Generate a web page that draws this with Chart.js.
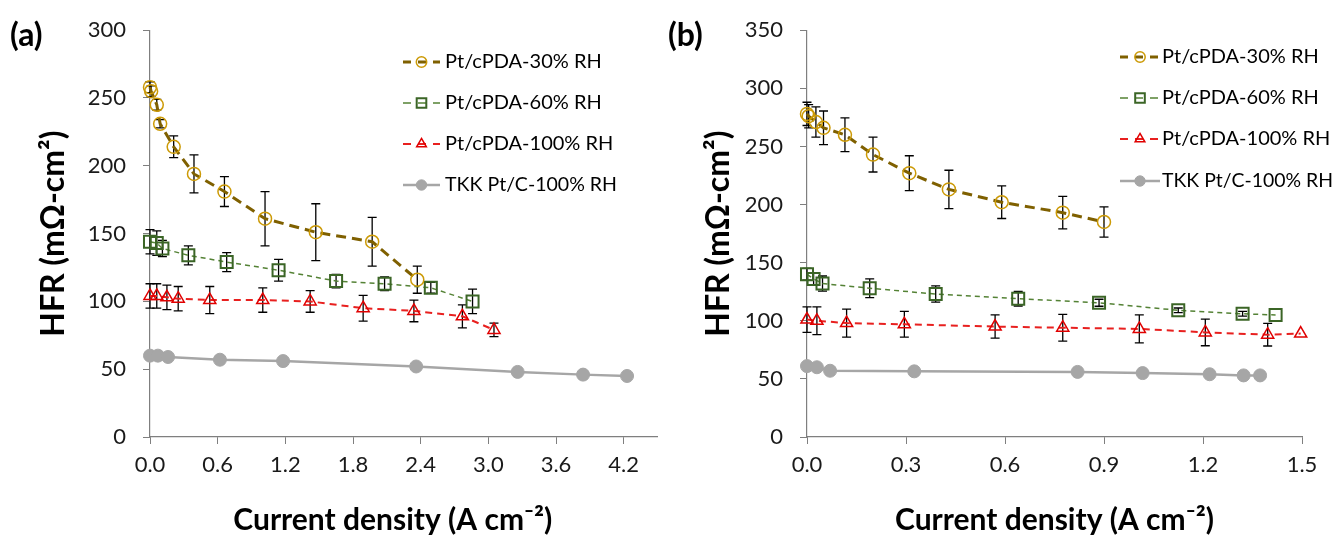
<!DOCTYPE html>
<html lang="en">
<head>
<meta charset="UTF-8">
<title>HFR vs current density</title>
<script src="https://cdn.jsdelivr.net/npm/chart.js"></script>
<style>
    body { margin: 0; background: #ffffff; width: 1336px; height: 539px; overflow: hidden; }
    .panel { position: absolute; top: 0; width: 668px; height: 539px; }
    .tag { position: absolute; top: 14px; font: bold 32px Lato, sans-serif; color: #000; }
</style>
</head>
<body>
<div class="panel" style="left:0"><canvas id="chartA" width="668" height="539"></canvas><div class="tag" style="left:10px">(a)</div></div>
<div class="panel" style="left:668px"><canvas id="chartB" width="668" height="539"></canvas><div class="tag" style="left:0px">(b)</div></div>

<script>
// series names
const seriesNames = ['Pt/cPDA-30% RH', 'Pt/cPDA-60% RH', 'Pt/cPDA-100% RH', 'TKK Pt/C-100% RH'];

// panel (a)
const xA30 = [0.00, 0.01, 0.06, 0.09, 0.21, 0.39, 0.66, 1.02, 1.47, 1.97, 2.37];
const yA30 = [258, 255, 245, 231, 214, 194, 181, 161, 151, 144, 116];
const eA30 = [4, 4, 4, 3, 8, 14, 11, 20, 21, 18, 10];

const xA60 = [0.00, 0.06, 0.11, 0.34, 0.68, 1.14, 1.65, 2.08, 2.49, 2.86];
const yA60 = [144, 143, 139, 134, 129, 123, 115, 113, 110, 100];
const eA60 = [9, 9, 6, 7, 7, 8, 5, 5, 4, 9];

const xA100 = [0.00, 0.06, 0.15, 0.25, 0.53, 1.00, 1.42, 1.89, 2.34, 2.77, 3.05];
const yA100 = [104, 104, 103, 102, 101, 101, 100, 95, 93, 89, 79];
const eA100 = [9, 9, 9, 9, 10, 9, 8, 9.5, 8, 8.5, 5];

const xATKK = [0.00, 0.07, 0.16, 0.62, 1.18, 2.36, 3.26, 3.84, 4.23];
const yATKK = [60, 60, 59, 57, 56, 52, 48, 46, 45];

// panel (b)
const xB30 = [0.00, 0.005, 0.027, 0.05, 0.115, 0.20, 0.31, 0.43, 0.59, 0.775, 0.90];
const yB30 = [278, 276, 271, 266, 260, 243, 227, 213, 202, 193, 185];
const eB30 = [10, 10, 13, 14.5, 14.5, 15, 15, 16.5, 14, 14, 13];

const xB60 = [0.00, 0.02, 0.047, 0.19, 0.39, 0.64, 0.885, 1.125, 1.32, 1.42];
const yB60 = [140, 136, 132, 128, 123, 119, 115.5, 109, 106, 105];
const eB60 = [5, 5, 6.5, 8, 7, 6.3, 3, 2, 2, 0];

const xB100 = [0.00, 0.03, 0.12, 0.295, 0.57, 0.775, 1.007, 1.207, 1.396, 1.496];
const yB100 = [101, 100, 98, 97, 95, 94, 93, 90, 88, 89];
const eB100 = [11, 12, 12, 11, 10, 11.5, 12, 11.5, 9.7, 0];

const xBTKK = [0.00, 0.03, 0.07, 0.325, 0.82, 1.017, 1.22, 1.323, 1.373];
const yBTKK = [61, 60, 57, 56.5, 56, 55, 54, 53, 53];

// axis settings
const yTitle = 'HFR (mΩ-cm²)';
const xTitle = 'Current density (A cm⁻²)';

function pts(xs, ys) {
    return xs.map((x, i) => ({x: x, y: ys[i]}));
}

function makeSets(s30, s60, s100, sTKK) {
    return [
        {
            label: seriesNames[0], data: pts(s30[0], s30[1]), errors: s30[2],
            borderColor: '#7F6000', borderWidth: 3, borderDash: [10, 6],
            pointStyle: 'circle', pointRadius: 6.5, pointBorderWidth: 1.5,
            pointBorderColor: '#CC9A06', pointBackgroundColor: 'rgba(0,0,0,0)'
        },
        {
            label: seriesNames[1], data: pts(s60[0], s60[1]), errors: s60[2],
            borderColor: '#548235', borderWidth: 1.5, borderDash: [5, 4],
            pointStyle: 'rect', pointRadius: 8.5, pointBorderWidth: 2,
            pointBorderColor: '#3B6526', pointBackgroundColor: 'rgba(0,0,0,0)'
        },
        {
            label: seriesNames[2], data: pts(s100[0], s100[1]), errors: s100[2],
            borderColor: '#E8201F', borderWidth: 2, borderDash: [7, 5],
            pointStyle: 'triangle', pointRadius: 7, pointBorderWidth: 1.5,
            pointBorderColor: '#E00000', pointBackgroundColor: 'rgba(0,0,0,0)'
        },
        {
            label: seriesNames[3], data: pts(sTKK[0], sTKK[1]),
            borderColor: '#A6A6A6', borderWidth: 2.5, borderDash: [],
            pointStyle: 'circle', pointRadius: 6.5, pointBorderWidth: 1,
            pointBorderColor: '#A6A6A6', pointBackgroundColor: '#A6A6A6'
        }
    ];
}

// vertical error bars with caps
const errorBars = {
    id: 'errorBars',
    beforeDatasetsDraw(chart) {
        const ctx = chart.ctx;
        const xs = chart.scales.x, ys = chart.scales.y;
        ctx.save();
        ctx.strokeStyle = '#000';
        ctx.lineWidth = 1.3;
        chart.data.datasets.forEach(ds => {
            if (!ds.errors) return;
            ds.data.forEach((p, i) => {
                const e = ds.errors[i];
                if (!e) return;
                const px = xs.getPixelForValue(p.x);
                const top = ys.getPixelForValue(p.y + e);
                const bot = ys.getPixelForValue(p.y - e);
                ctx.beginPath();
                ctx.moveTo(px, top); ctx.lineTo(px, bot);
                ctx.moveTo(px - 4.5, top); ctx.lineTo(px + 4.5, top);
                ctx.moveTo(px - 4.5, bot); ctx.lineTo(px + 4.5, bot);
                ctx.stroke();
            });
        });
        ctx.restore();
    }
};

// legend drawn like the spreadsheet one: line + marker + text
const lineLegend = {
    id: 'lineLegend',
    afterDraw(chart, args, opts) {
        const ctx = chart.ctx;
        ctx.save();
        chart.data.datasets.forEach((ds, i) => {
            const yy = opts.rows[i];
            const x0 = opts.x, x1 = opts.x + opts.len;
            ctx.strokeStyle = ds.borderColor;
            ctx.lineWidth = ds.borderWidth;
            ctx.setLineDash(ds.borderDash && ds.borderDash.length ? [8, 7] : []);
            ctx.beginPath();
            ctx.moveTo(x0, yy); ctx.lineTo(x1, yy);
            ctx.stroke();
            ctx.setLineDash([]);
            ctx.strokeStyle = ds.pointBorderColor;
            ctx.fillStyle = ds.pointBackgroundColor;
            ctx.lineWidth = ds.pointBorderWidth;
            Chart.helpers.drawPoint(ctx, {
                pointStyle: ds.pointStyle, rotation: 0,
                radius: ds.pointRadius * 0.8, borderWidth: ds.pointBorderWidth
            }, (x0 + x1) / 2, yy);
            ctx.fillStyle = '#000';
            ctx.font = '20px Lato, sans-serif';
            ctx.textBaseline = 'middle';
            ctx.textAlign = 'left';
            // the original face is narrower, squeeze long labels a little
            ctx.fillText(ds.label, opts.textX, yy, opts.maxText);
        });
        ctx.restore();
    }
};

function buildChart(id, sets, cfg) {
    new Chart(document.getElementById(id), {
        type: 'line',
        data: {datasets: sets},
        plugins: [errorBars, lineLegend],
        options: {
            responsive: false,
            devicePixelRatio: 1,
            animation: false,
            layout: {padding: {left: 0, top: 26, right: cfg.padRight, bottom: 0}},
            datasets: {line: {tension: 0, clip: false}},
            plugins: {
                legend: {display: false},
                tooltip: {enabled: false},
                lineLegend: cfg.legend
            },
            scales: {
                x: {
                    type: 'linear', min: 0, max: cfg.xMax,
                    afterFit: s => { s.height = 102; },
                    border: {display: true, color: '#7f7f7f', width: 1.2},
                    grid: {display: true, drawOnChartArea: false, drawTicks: true, tickLength: 7, tickColor: '#7f7f7f'},
                    ticks: {
                        stepSize: cfg.xStep, includeBounds: false, padding: 8,
                        color: '#1a1a1a', font: {family: 'Lato', size: 22},
                        maxRotation: 0,
                        callback: v => v.toFixed(1)
                    },
                    title: {
                        display: true, text: cfg.xTitle, color: '#000',
                        font: {family: 'Lato', size: 30, weight: 'bold'},
                        padding: {top: 0, bottom: 1}
                    }
                },
                y: {
                    type: 'linear', min: 0, max: cfg.yMax,
                    afterFit: s => { s.width = cfg.yWidth; },
                    border: {display: true, color: '#7f7f7f', width: 1.2},
                    grid: {display: true, drawOnChartArea: false, drawTicks: true, tickLength: 7, tickColor: '#7f7f7f'},
                    ticks: {
                        stepSize: 50, padding: 17,
                        color: '#1a1a1a', font: {family: 'Lato', size: 22}
                    },
                    title: {
                        display: true, text: yTitle, color: '#000',
                        font: {family: 'Lato', size: 32, weight: 'bold'},
                        padding: {top: cfg.yTitlePad, bottom: 0}
                    }
                }
            }
        }
    });
}

buildChart('chartA',
    makeSets([xA30, yA30, eA30], [xA60, yA60, eA60], [xA100, yA100, eA100], [xATKK, yATKK]),
    {xMax: 4.5, xStep: 0.6, yMax: 300, yWidth: 150, padRight: 5, yTitlePad: 34,
     xTitle: xTitle + '\u00a0\u00a0\u00a0',
     legend: {x: 403, len: 37, textX: 445, maxText: 172, rows: [62, 103, 144, 185]}});

buildChart('chartB',
    makeSets([xB30, yB30, eB30], [xB60, yB60, eB60], [xB100, yB100, eB100], [xBTKK, yBTKK]),
    {xMax: 1.5, xStep: 0.3, yMax: 350, yWidth: 139, padRight: 34, yTitlePad: 31,
     xTitle: xTitle,
     legend: {x: 452, len: 40, textX: 494, maxText: 171, rows: [57, 98, 139, 181]}});
</script>
</body>
</html>
